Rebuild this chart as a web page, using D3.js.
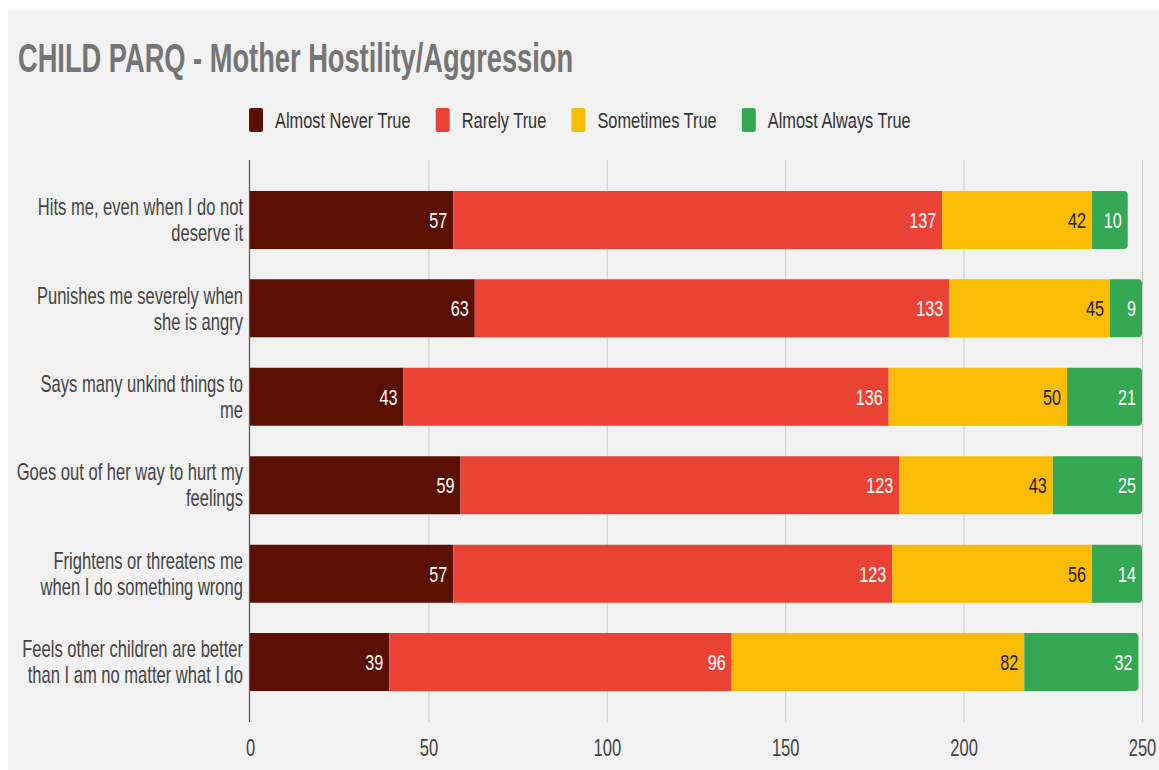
<!DOCTYPE html>
<html>
<head>
<meta charset="utf-8">
<script src="https://cdn.jsdelivr.net/npm/d3@7"></script>
<style>
  html, body { margin: 0; padding: 0; background: #ffffff; }
  svg { display: block; }
  text { font-family: "Liberation Sans", Arial, sans-serif; }
</style>
</head>
<body>
<svg id="chart" width="1159" height="770"></svg>
<script>
// ---- data ----
const categoryLines = [
  ["Hits me, even when I do not", "deserve it"],
  ["Punishes me severely when", "she is angry"],
  ["Says many unkind things to", "me"],
  ["Goes out of her way to hurt my", "feelings"],
  ["Frightens or threatens me", "when I do something wrong"],
  ["Feels other children are better", "than I am no matter what I do"]
];
const categories = categoryLines.map(l => l.join(" "));
const seriesNames = ["Almost Never True", "Rarely True", "Sometimes True", "Almost Always True"];
const almostNeverTrue  = [57, 63, 43, 59, 57, 39];
const rarelyTrue       = [137, 133, 136, 123, 123, 96];
const sometimesTrue    = [42, 45, 50, 43, 56, 82];
const almostAlwaysTrue = [10, 9, 21, 25, 14, 32];
const xTicks = [0, 50, 100, 150, 200, 250];
const titleText = "CHILD PARQ - Mother Hostility/Aggression";

const seriesColors = ["#5b0f00", "#ea4335", "#fbbc04", "#34a853"];
const labelColors  = ["#ffffff", "#ffffff", "#222222", "#ffffff"];

// ---- layout ----
const W = 1159, H = 770;
const panel = { x: 8, y: 10, w: W - 8, h: H - 10 };
const plot = { left: 250, right: 1142, top: 160, bottom: 722 };
const SX = 0.72;       // horizontal squeeze applied to body text
const SX_TITLE = 0.665;
const SX_LEGEND = 0.745;

const svg = d3.select("#chart");

svg.append("rect")
  .attr("x", panel.x).attr("y", panel.y)
  .attr("width", panel.w).attr("height", panel.h)
  .attr("fill", "#f2f2f2");

// helper: text squeezed horizontally around its anchor point
function addText(parent, x, y, str, size, color, anchor, weight, sx) {
  return parent.append("text")
    .attr("transform", `translate(${x},${y}) scale(${sx || SX},1)`)
    .attr("font-size", size)
    .attr("fill", color)
    .attr("text-anchor", anchor || "start")
    .attr("font-weight", weight || "normal")
    .text(str);
}

// ---- title ----
addText(svg, 18, 72, titleText, 41, "#757575", "start", "bold", SX_TITLE);

// ---- scales ----
const x = d3.scaleLinear().domain([0, 250]).range([plot.left, plot.right]);
const y = d3.scaleBand().domain(categories).range([plot.top, plot.bottom])
  .paddingInner(0.344).paddingOuter(0.35);

const rows = categories.map((c, i) => ({
  category: c,
  [seriesNames[0]]: almostNeverTrue[i],
  [seriesNames[1]]: rarelyTrue[i],
  [seriesNames[2]]: sometimesTrue[i],
  [seriesNames[3]]: almostAlwaysTrue[i]
}));
const stacked = d3.stack().keys(seriesNames)(rows);

// ---- gridlines & axis ----
const xAxis = d3.axisBottom(x).tickValues(xTicks).tickSize(0).tickPadding(0);
const gridG = svg.append("g");
gridG.selectAll("line").data(xTicks.filter(t => t !== 0)).join("line")
  .attr("x1", d => x(d) + 0.5).attr("x2", d => x(d) + 0.5)
  .attr("y1", plot.top).attr("y2", plot.bottom)
  .attr("stroke", "#cccccc").attr("stroke-width", 1);

const axisG = svg.append("g").attr("transform", `translate(0,${plot.bottom})`).call(xAxis);
axisG.select(".domain").remove();
axisG.selectAll(".tick text").remove();
axisG.selectAll(".tick").each(function(d) {
  addText(d3.select(this), 0, 34, String(d), 23, "#444444", "middle");
});

// ---- bars ----
const r = 4;
function segPath(x0, x1, yTop, h, roundRight) {
  if (!roundRight) return `M${x0},${yTop}H${x1}V${yTop + h}H${x0}Z`;
  return `M${x0},${yTop}H${x1 - r}A${r},${r} 0 0 1 ${x1},${yTop + r}` +
         `V${yTop + h - r}A${r},${r} 0 0 1 ${x1 - r},${yTop + h}H${x0}Z`;
}

const barsG = svg.append("g");
stacked.forEach((layer, si) => {
  const g = barsG.append("g");
  g.selectAll("path").data(layer).join("path")
    .attr("d", d => segPath(x(d[0]), x(d[1]), y(d.data.category), y.bandwidth(), si === seriesNames.length - 1))
    .attr("fill", seriesColors[si]);
});

// axis line at zero drawn over the bar starts
svg.append("line")
  .attr("x1", x(0) - 0.5).attr("x2", x(0) - 0.5)
  .attr("y1", plot.top).attr("y2", plot.bottom)
  .attr("stroke", "#555555").attr("stroke-width", 1.2);

// ---- value labels ----
const labelsG = svg.append("g");
stacked.forEach((layer, si) => {
  layer.forEach(d => {
    const val = d[1] - d[0];
    const cy = y(d.data.category) + y.bandwidth() / 2;
    addText(labelsG, x(d[1]) - 6, cy + 8, String(val), 22.5, labelColors[si], "end");
  });
});

// ---- category labels (two lines each) ----
const catG = svg.append("g");
const lineH = 26, capH = 16.5;
categoryLines.forEach((lines, ci) => {
  const cy = y(categories[ci]) + y.bandwidth() / 2;
  const firstBase = cy - (lines.length - 1) * lineH / 2 + capH / 2;
  lines.forEach((ln, i) => {
    addText(catG, 243, firstBase + i * lineH, ln, 23, "#444444", "end");
  });
});

// ---- legend ----
const legendG = svg.append("g");
const swW = 14, swH = 24, swGap = 12, itemGap = 25;
const probe = svg.append("text").attr("font-size", 22);
const widths = seriesNames.map(n => { probe.text(n); return probe.node().getComputedTextLength() * SX_LEGEND; });
probe.remove();
const total = d3.sum(widths) + seriesNames.length * (swW + swGap) + (seriesNames.length - 1) * itemGap;
let lx = 249;
seriesNames.forEach((n, i) => {
  legendG.append("rect")
    .attr("x", lx).attr("y", 108).attr("width", swW).attr("height", swH)
    .attr("rx", 2).attr("fill", seriesColors[i]);
  addText(legendG, lx + swW + swGap, 128, n, 22, "#333333", "start", "normal", SX_LEGEND);
  lx += swW + swGap + widths[i] + itemGap;
});
</script>
</body>
</html>
